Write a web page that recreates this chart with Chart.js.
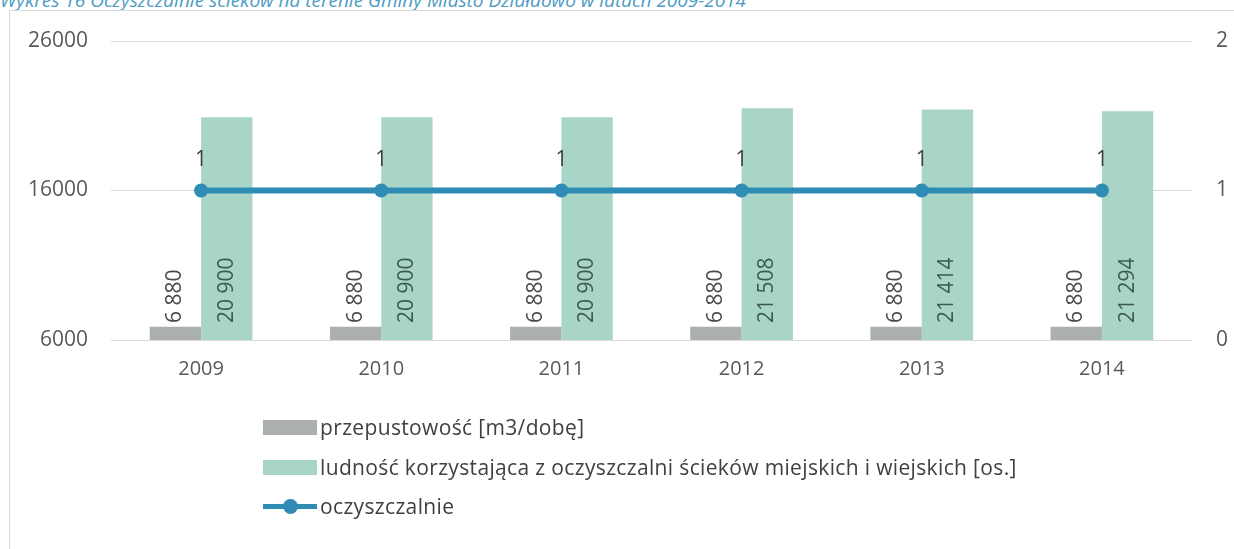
<!DOCTYPE html>
<html>
<head>
<meta charset="utf-8">
<script src="https://cdn.jsdelivr.net/npm/chart.js@4.4.1/dist/chart.umd.min.js"></script>
<style>
  html, body { margin:0; padding:0; background:#fff; }
  body { width:1234px; height:549px; position:relative; overflow:hidden; font-family: "Open Sans", sans-serif; }
  #title { position:absolute; left:0; top:-13px; font-size:19px; font-style:italic; color:#4d9cc4; white-space:nowrap; }
  #frame { position:absolute; left:9px; top:10px; width:1240px; height:560px; border-left:1px solid #d9d9d9; border-top:1px solid #d9d9d9; }
  #wrap { position:absolute; left:0; top:0; width:1234px; height:549px; }
  #legend { position:absolute; left:263px; top:413px; font-size:21px; letter-spacing:0.35px; color:#404040; }
  .item { height:39.7px; display:flex; align-items:flex-start; line-height:28px; }
  .box { width:54px; height:15px; margin-top:7px; margin-right:3px; }
  .lineMark { width:54px; height:15px; margin-top:7px; margin-right:3px; position:relative; }
  .lineMark .l { position:absolute; left:0; right:0; top:5px; height:5px; }
  .lineMark .d { position:absolute; left:20px; top:0; width:15px; height:15px; border-radius:50%; }
</style>
</head>
<body>
<div id="title">Wykres 16 Oczyszczalnie ścieków na terenie Gminy Miasto Działdowo w latach 2009-2014</div>
<div id="frame"></div>
<div id="wrap"><canvas id="c" width="1234" height="549"></canvas></div>
<div id="legend"></div>
<script>
// data
const years = ['2009', '2010', '2011', '2012', '2013', '2014'];
const przepustowosc = [6880, 6880, 6880, 6880, 6880, 6880];
const ludnosc = [20900, 20900, 20900, 21508, 21414, 21294];
const oczyszczalnie = [1, 1, 1, 1, 1, 1];
const leftTicks = [6000, 16000, 26000];
const rightTicks = [0, 1, 2];

const FONT = '"Open Sans", sans-serif';
const GRAY = '#abafae';
const TEAL = '#a9d5c8';
const BLUE = '#2f8db5';

function fmt(v){ return String(v).replace(/\B(?=(\d{3})+(?!\d))/g, ' '); }

// draws the value labels (rotated on bars, above points on the line)
const valueLabels = {
  id: 'valueLabels',
  afterDatasetsDraw(chart){
    const ctx = chart.ctx;
    const base = chart.scales.y.getPixelForValue(6000);
    ctx.save();
    ctx.font = '21px ' + FONT;
    chart.data.datasets.forEach((ds, di)=>{
      const meta = chart.getDatasetMeta(di);
      meta.data.forEach((el, i)=>{
        const txt = fmt(ds.data[i]);
        if (ds.type === 'line') {
          ctx.fillStyle = '#404040';
          ctx.textAlign = 'center';
          ctx.textBaseline = 'middle';
          ctx.fillText(txt, el.x, el.y - 30);
        } else {
          ctx.save();
          ctx.translate(el.x, base - 17);
          ctx.rotate(-Math.PI/2);
          ctx.fillStyle = di === 1 ? '#4a4a4a' : '#3d5a52';
          ctx.textAlign = 'left';
          ctx.textBaseline = 'middle';
          ctx.fillText(txt, 0, 0);
          ctx.restore();
        }
      });
    });
    ctx.restore();
  }
};

const chart = new Chart(document.getElementById('c'), {
  type: 'bar',
  data: {
    labels: years,
    datasets: [
      { type:'line', label:'oczyszczalnie', data: oczyszczalnie, yAxisID:'y2',
        borderColor: BLUE, backgroundColor: BLUE, borderWidth: 6,
        pointRadius: 7, pointBackgroundColor: BLUE, pointBorderWidth: 0, order: 0 },
      { label:'przepustowość [m3/dobę]', data: przepustowosc, backgroundColor: GRAY, yAxisID:'y', order: 1 },
      { label:'ludność korzystająca z oczyszczalni ścieków miejskich i wiejskich [os.]', data: ludnosc, backgroundColor: TEAL, yAxisID:'y', order: 1 }
    ]
  },
  options: {
    responsive: false,
    animation: false,
    layout: { padding: { top: 41, left: 0, right: 0, bottom: 0 } },
    datasets: { bar: { categoryPercentage: 0.57, barPercentage: 1 } },
    plugins: { legend: { display: false }, tooltip: { enabled: false } },
    scales: {
      x: {
        grid: { display: false },
        border: { display: false },
        ticks: { color: '#595959', font: { size: 20, family: FONT }, padding: 9 },
        afterFit(s){ s.height = 209; }
      },
      y: {
        position: 'left', min: 6000, max: 26000,
        afterBuildTicks(s){ s.ticks = leftTicks.map(v=>({value:v})); },
        grid: { color: '#d9d9d9', drawTicks: false },
        border: { display: false },
        ticks: { color: '#595959', font: { size: 21, family: FONT }, padding: 23, callback: v=>String(v) },
        afterFit(s){ s.width = 111; }
      },
      y2: {
        position: 'right', min: 0, max: 2,
        afterBuildTicks(s){ s.ticks = rightTicks.map(v=>({value:v})); },
        grid: { display: false },
        border: { display: false },
        ticks: { color: '#595959', font: { size: 21, family: FONT }, padding: 16, callback: v=>String(v) },
        afterFit(s){ s.width = 42; }
      }
    }
  },
  plugins: [valueLabels]
});

// html legend, bars first then line
const legend = document.getElementById('legend');
[1, 2, 0].forEach(i=>{
  const ds = chart.data.datasets[i];
  const row = document.createElement('div');
  row.className = 'item';
  let mark;
  if (ds.type === 'line') {
    mark = document.createElement('div');
    mark.className = 'lineMark';
    mark.innerHTML = '<div class="l" style="background:'+ds.borderColor+'"></div><div class="d" style="background:'+ds.borderColor+'"></div>';
  } else {
    mark = document.createElement('div');
    mark.className = 'box';
    mark.style.background = ds.backgroundColor;
  }
  const t = document.createElement('span');
  t.textContent = ds.label;
  row.appendChild(mark); row.appendChild(t);
  legend.appendChild(row);
});
</script>
</body>
</html>
